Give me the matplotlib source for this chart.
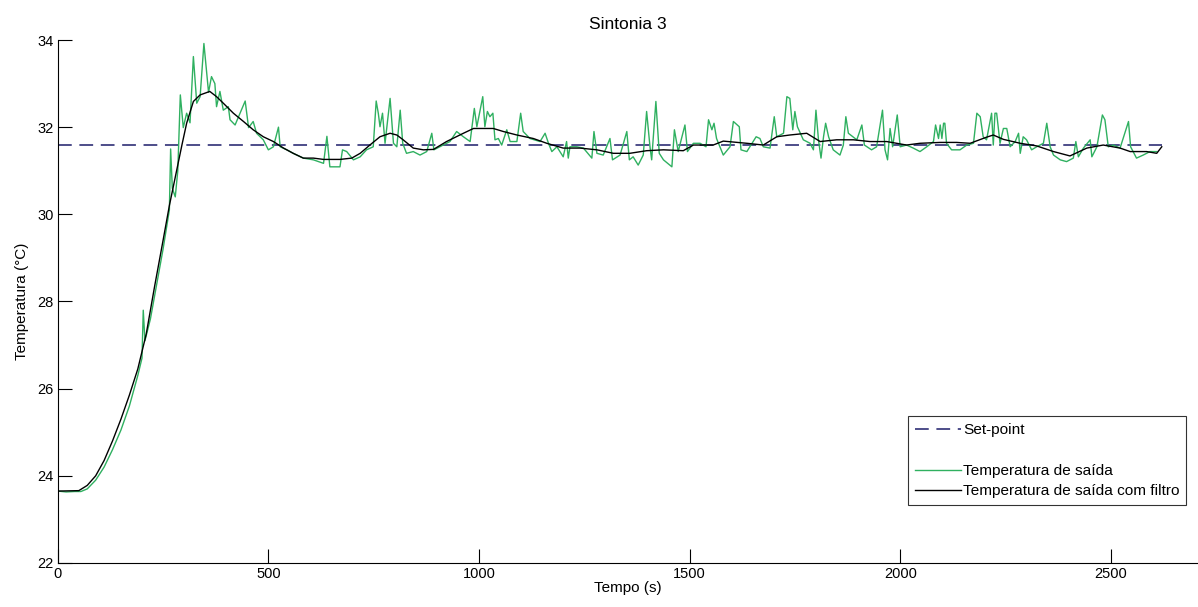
import matplotlib
matplotlib.use("Agg")
import matplotlib.pyplot as plt
from matplotlib.lines import Line2D

plt.rcParams['font.family'] = ['Liberation Sans', 'DejaVu Sans']

# tempo (s) e temperatura medida (sinal bruto)
t_saida = [0, 20, 40, 55, 70, 90, 110, 130, 150, 170, 190, 200, 203, 207, 220, 235, 250, 260, 265,
           268, 272, 279, 285, 291, 298, 306, 314, 322, 330, 338, 347, 358, 365, 373, 377, 385, 393,
           405, 409, 421, 445, 453, 464, 472, 488, 500, 512, 524, 528, 544, 559, 583, 607, 631, 639,
           646, 670, 676, 686, 702, 718, 733, 749, 756, 761, 765, 771, 777, 789, 797, 805, 813, 819,
           828, 844, 860, 876, 888, 893, 907,
           931, 947, 963, 979, 989, 995, 1009, 1014, 1020, 1026, 1033, 1038, 1046, 1054, 1066, 1074,
           1090, 1099, 1105, 1121, 1145, 1157, 1165, 1173, 1185, 1200, 1208, 1212, 1216, 1232, 1248,
           1268, 1273, 1280, 1295, 1311, 1317, 1335, 1351, 1357, 1366, 1378, 1390, 1398, 1406, 1410,
           1420, 1428, 1438, 1458, 1464, 1473, 1489,
           1495, 1509, 1525, 1539, 1545, 1553, 1558, 1564, 1580, 1596, 1604, 1618, 1622, 1636, 1658,
           1667, 1675, 1691, 1701, 1707, 1723, 1731, 1738, 1745, 1750, 1756, 1770, 1786, 1794, 1800,
           1806, 1812, 1818, 1823, 1830, 1841, 1857, 1865, 1871, 1877, 1897, 1909, 1915, 1932, 1944,
           1958, 1964, 1970, 1976, 1982, 1993, 2000, 2015, 2031, 2047,
           2063, 2079, 2084, 2091, 2095, 2099, 2103, 2106, 2110, 2122, 2142, 2158, 2174, 2182, 2190,
           2197, 2205, 2217, 2221, 2225, 2229, 2237, 2245, 2253, 2261, 2273, 2281, 2285, 2292, 2300,
           2312, 2324, 2340, 2348, 2356, 2364, 2380, 2395, 2411, 2417, 2423, 2435, 2451, 2455, 2467,
           2480, 2486, 2494, 2506, 2522, 2542, 2547, 2561, 2577, 2593, 2609]
temp_saida = [23.65, 23.63, 23.64, 23.64, 23.70, 23.90, 24.20, 24.60, 25.05, 25.60, 26.30, 26.70, 27.80,
              27.10, 27.60, 28.40, 29.20, 29.80, 30.10,
              31.50, 30.60, 30.40, 31.00, 32.74, 31.99, 32.32, 32.10, 33.62, 32.55, 32.70, 33.92, 32.80,
              33.16, 33.00, 32.47, 32.82, 32.39,
              32.47, 32.17, 32.05, 32.60, 31.99, 32.13, 31.86, 31.71, 31.48, 31.55, 32.00, 31.55, 31.48,
              31.40, 31.29, 31.25, 31.17, 31.79,
              31.09, 31.09, 31.48, 31.44, 31.25, 31.32, 31.48, 31.55, 32.60, 32.32, 32.01, 32.32, 31.63,
              32.66, 31.63, 31.55, 32.39, 31.63,
              31.40, 31.44, 31.36, 31.44, 31.86, 31.48, 31.55,
              31.67, 31.90, 31.78, 31.67, 32.43, 32.01, 32.70, 32.01, 32.36, 32.24, 32.32, 31.71, 31.74,
              31.59, 31.94, 31.67,
              31.67, 32.32, 31.90, 31.74, 31.67, 31.86, 31.63, 31.44, 31.55, 31.32, 31.67, 31.29, 31.55,
              31.55, 31.52,
              31.29, 31.90, 31.40, 31.36, 31.74, 31.25, 31.36, 31.90, 31.25, 31.32, 31.13, 31.36, 32.36,
              31.55, 31.25,
              32.59, 31.40, 31.25, 31.09, 31.94, 31.44, 32.05,
              31.44, 31.63, 31.63, 31.55, 32.17, 31.94, 32.09, 31.74, 31.36, 31.55, 32.13, 32.01, 31.48,
              31.44, 31.78,
              31.74, 31.55, 31.52, 32.24, 31.78, 31.86, 32.70, 32.66, 31.94, 32.36, 32.01, 31.71, 31.63,
              31.48, 32.39,
              31.71, 31.29, 31.78, 32.09, 31.78, 31.48, 31.36, 31.59, 32.24, 31.86, 31.71, 32.05, 31.59,
              31.48, 31.55,
              32.39, 31.48, 31.25, 31.97, 31.55, 32.28, 31.55, 31.59, 31.52, 31.44,
              31.55, 31.67, 32.05, 31.74, 32.05, 31.74, 32.09, 32.09, 31.63, 31.48, 31.48, 31.59, 31.63,
              32.32, 32.24,
              31.78, 31.71, 32.32, 31.59, 32.32, 32.32, 31.63, 31.97, 31.97, 31.55, 31.67, 31.86, 31.40,
              31.78, 31.71,
              31.48, 31.55, 31.63, 32.09, 31.55, 31.36, 31.25, 31.21, 31.29, 31.67, 31.32, 31.52, 31.71,
              31.32, 31.55,
              32.28, 32.17, 31.55, 31.59, 31.52, 32.13, 31.55, 31.29, 31.36, 31.44, 31.44]

# sinal filtrado
t_filtro = [0, 50, 70, 90, 110, 130, 150, 170, 190, 210, 230, 250, 265, 280, 295, 306, 322, 338, 361,
            377, 393, 417, 441, 464, 488, 512, 536, 559, 583, 607, 631, 670, 698, 718, 741, 765, 789,
            805, 820, 844, 868, 892, 923, 963, 987, 1034, 1058, 1090, 1129, 1161, 1200, 1240, 1280,
            1319, 1358, 1398, 1438, 1485, 1509, 1556, 1580, 1636, 1675, 1707, 1738, 1778, 1810, 1849,
            1889, 1928, 1968, 2015, 2047, 2095, 2134, 2166, 2205, 2221, 2245, 2285, 2324, 2364, 2403,
            2443, 2482, 2522, 2546, 2585, 2609, 2621]
temp_filtro = [23.65, 23.66, 23.78, 24.00, 24.35, 24.80, 25.30, 25.85, 26.45, 27.25, 28.35, 29.40, 30.20,
               30.90, 31.60, 32.09, 32.59, 32.74, 32.82, 32.70, 32.55, 32.32, 32.13, 31.94, 31.78,
               31.67, 31.52, 31.40, 31.29, 31.29, 31.26, 31.26, 31.29, 31.40, 31.59, 31.78, 31.86,
               31.82, 31.71, 31.52, 31.48, 31.49, 31.67, 31.86, 31.97, 31.97, 31.90, 31.82, 31.74,
               31.63, 31.52, 31.52, 31.48, 31.40, 31.40, 31.46, 31.48, 31.46, 31.59, 31.59, 31.68,
               31.63, 31.59, 31.78, 31.82, 31.86, 31.67, 31.71, 31.71, 31.67, 31.67, 31.59, 31.63,
               31.65, 31.65, 31.63, 31.77, 31.82, 31.72, 31.63, 31.57, 31.44, 31.34, 31.52, 31.59,
               31.52, 31.44, 31.44, 31.40, 31.55]

t_setpoint = [0, 2621]
setpoint = [31.6, 31.6]

fig = plt.figure(figsize=(11.98, 6.07), dpi=100)
ax = fig.add_axes([0.0482, 0.0725, 0.9518, 0.8616])

ln_sp, = ax.plot(t_setpoint, setpoint, color='#1c1c6a', lw=1.1, dashes=(9, 5))
ln_g, = ax.plot(t_saida, temp_saida, color='#2fb060', lw=1.0)
ln_k, = ax.plot(t_filtro, temp_filtro, color='black', lw=1.0)
vazio = Line2D([], [], color='none')

ax.set_xlim(0, 2707)
ax.set_ylim(22, 34)
ax.set_xticks([0, 500, 1000, 1500, 2000, 2500])
ax.set_yticks([22, 24, 26, 28, 30, 32, 34])
ax.spines['top'].set_visible(False)
ax.spines['right'].set_visible(False)
ax.tick_params(direction='in', length=10, width=0.8, labelsize=10.5, pad=3)
ax.set_title('Sintonia 3', fontsize=12.5, pad=8)
ax.set_xlabel('Tempo (s)', fontsize=11, labelpad=0)
ax.set_ylabel('Temperatura (°C)', fontsize=11, labelpad=6)

leg = ax.legend([ln_sp, vazio, ln_g, ln_k],
                ['Set-point', ' ', 'Temperatura de saída', 'Temperatura de saída com filtro'],
                loc='upper left', bbox_to_anchor=(0.7457, 0.281), fontsize=11.1,
                frameon=True, fancybox=False, edgecolor='black', handlelength=3.0,
                handletextpad=0.1, labelspacing=0.42, borderpad=0.45, borderaxespad=0)
leg.get_frame().set_linewidth(0.8)

fig.savefig('out.png', dpi=100)
